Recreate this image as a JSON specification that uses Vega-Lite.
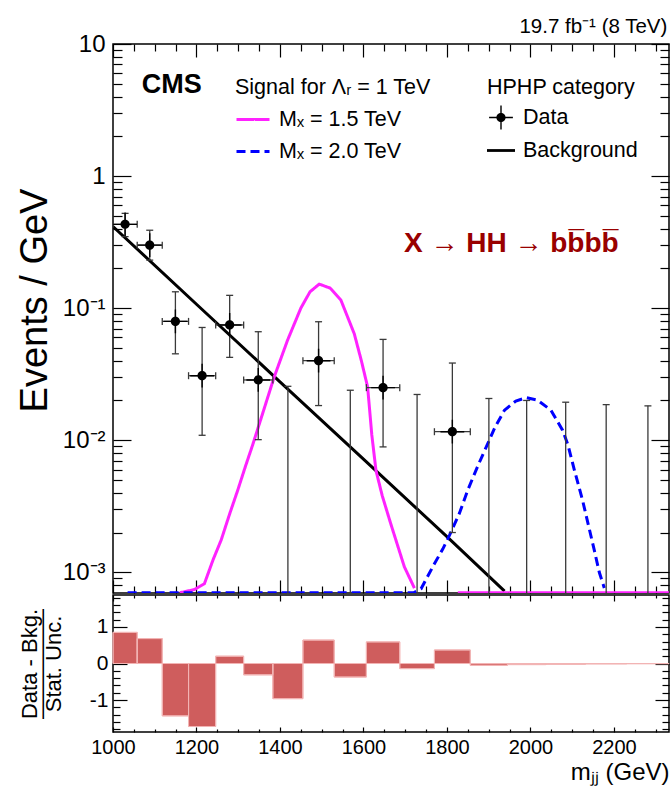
{
  "$schema": "https://vega.github.io/schema/vega-lite/v6.json",
  "background": "white",
  "padding": {"left": 15, "top": 16, "right": 3, "bottom": 4},
  "title": {"text": "19.7 fb⁻¹ (8 TeV)", "anchor": "end", "fontSize": 20.5, "fontWeight": "normal", "font": "Liberation Sans", "color": "black", "baseline": "alphabetic", "offset": -22, "dx": -3},
  "spacing": -40,
  "datasets": {
    "pts": [
      {"m": 1029, "mlo": 1000, "mhi": 1058, "val": 0.431, "elo": 0.348, "ehi": 0.522},
      {"m": 1088, "mlo": 1058, "mhi": 1118, "val": 0.300, "elo": 0.231, "ehi": 0.389},
      {"m": 1149.5, "mlo": 1118, "mhi": 1181, "val": 0.0794, "elo": 0.0451, "ehi": 0.133},
      {"m": 1213.5, "mlo": 1181, "mhi": 1246, "val": 0.0308, "elo": 0.0109, "ehi": 0.0714},
      {"m": 1279.5, "mlo": 1246, "mhi": 1313, "val": 0.0746, "elo": 0.0424, "ehi": 0.125},
      {"m": 1348, "mlo": 1313, "mhi": 1383, "val": 0.0286, "elo": 0.0101, "ehi": 0.0663},
      {"m": 1419, "mlo": 1383, "mhi": 1455, "val": null, "elo": 0.00001, "ehi": 0.0256},
      {"m": 1492.5, "mlo": 1455, "mhi": 1530, "val": 0.0400, "elo": 0.0183, "ehi": 0.0789},
      {"m": 1568.5, "mlo": 1530, "mhi": 1607, "val": null, "elo": 0.00001, "ehi": 0.0239},
      {"m": 1647, "mlo": 1607, "mhi": 1687, "val": 0.0250, "elo": 0.0089, "ehi": 0.058},
      {"m": 1728.5, "mlo": 1687, "mhi": 1770, "val": null, "elo": 0.00001, "ehi": 0.0222},
      {"m": 1813, "mlo": 1770, "mhi": 1856, "val": 0.0116, "elo": 0.0020, "ehi": 0.0384},
      {"m": 1900.5, "mlo": 1856, "mhi": 1945, "val": null, "elo": 0.00001, "ehi": 0.0207},
      {"m": 1991, "mlo": 1945, "mhi": 2037, "val": null, "elo": 0.00001, "ehi": 0.0200},
      {"m": 2084.5, "mlo": 2037, "mhi": 2132, "val": null, "elo": 0.00001, "ehi": 0.0194},
      {"m": 2181.5, "mlo": 2132, "mhi": 2231, "val": null, "elo": 0.00001, "ehi": 0.0186},
      {"m": 2281.5, "mlo": 2231, "mhi": 2332, "val": null, "elo": 0.00001, "ehi": 0.0182}
    ],
    "bkg": [
      {"m": 1000, "val": 0.415},
      {"m": 1200, "val": 0.107},
      {"m": 1400, "val": 0.0277},
      {"m": 1600, "val": 0.0072},
      {"m": 1800, "val": 0.00186},
      {"m": 1938, "val": 0.00072}
    ],
    "sig": [
      {"signal": "Mₓ = 1.5 TeV", "seg": 1, "m": 1160, "val": 0.0007},
      {"signal": "Mₓ = 1.5 TeV", "seg": 1, "m": 1195, "val": 0.00074},
      {"signal": "Mₓ = 1.5 TeV", "seg": 1, "m": 1219, "val": 0.00082},
      {"signal": "Mₓ = 1.5 TeV", "seg": 1, "m": 1240, "val": 0.00125},
      {"signal": "Mₓ = 1.5 TeV", "seg": 1, "m": 1259, "val": 0.00175},
      {"signal": "Mₓ = 1.5 TeV", "seg": 1, "m": 1280, "val": 0.0028},
      {"signal": "Mₓ = 1.5 TeV", "seg": 1, "m": 1299, "val": 0.0042},
      {"signal": "Mₓ = 1.5 TeV", "seg": 1, "m": 1317, "val": 0.0063},
      {"signal": "Mₓ = 1.5 TeV", "seg": 1, "m": 1335, "val": 0.0093},
      {"signal": "Mₓ = 1.5 TeV", "seg": 1, "m": 1360, "val": 0.0165},
      {"signal": "Mₓ = 1.5 TeV", "seg": 1, "m": 1386, "val": 0.030},
      {"signal": "Mₓ = 1.5 TeV", "seg": 1, "m": 1418, "val": 0.057},
      {"signal": "Mₓ = 1.5 TeV", "seg": 1, "m": 1450, "val": 0.100},
      {"signal": "Mₓ = 1.5 TeV", "seg": 1, "m": 1472, "val": 0.133},
      {"signal": "Mₓ = 1.5 TeV", "seg": 1, "m": 1494, "val": 0.152},
      {"signal": "Mₓ = 1.5 TeV", "seg": 1, "m": 1520, "val": 0.142},
      {"signal": "Mₓ = 1.5 TeV", "seg": 1, "m": 1546, "val": 0.115},
      {"signal": "Mₓ = 1.5 TeV", "seg": 1, "m": 1578, "val": 0.064},
      {"signal": "Mₓ = 1.5 TeV", "seg": 1, "m": 1595, "val": 0.040},
      {"signal": "Mₓ = 1.5 TeV", "seg": 1, "m": 1610, "val": 0.0253},
      {"signal": "Mₓ = 1.5 TeV", "seg": 1, "m": 1620, "val": 0.011},
      {"signal": "Mₓ = 1.5 TeV", "seg": 1, "m": 1630, "val": 0.0059},
      {"signal": "Mₓ = 1.5 TeV", "seg": 1, "m": 1645, "val": 0.0038},
      {"signal": "Mₓ = 1.5 TeV", "seg": 1, "m": 1666, "val": 0.0023},
      {"signal": "Mₓ = 1.5 TeV", "seg": 1, "m": 1698, "val": 0.0011},
      {"signal": "Mₓ = 1.5 TeV", "seg": 1, "m": 1722, "val": 0.00076},
      {"signal": "Mₓ = 1.5 TeV", "seg": 2, "m": 1826, "val": 0.0007},
      {"signal": "Mₓ = 1.5 TeV", "seg": 2, "m": 2332, "val": 0.0007},
      {"signal": "Mₓ = 2.0 TeV", "seg": 1, "m": 1035, "val": 0.0007},
      {"signal": "Mₓ = 2.0 TeV", "seg": 1, "m": 1720, "val": 0.0007},
      {"signal": "Mₓ = 2.0 TeV", "seg": 1, "m": 1738, "val": 0.00075},
      {"signal": "Mₓ = 2.0 TeV", "seg": 1, "m": 1770, "val": 0.00116},
      {"signal": "Mₓ = 2.0 TeV", "seg": 1, "m": 1790, "val": 0.0015},
      {"signal": "Mₓ = 2.0 TeV", "seg": 1, "m": 1806, "val": 0.0019},
      {"signal": "Mₓ = 2.0 TeV", "seg": 1, "m": 1830, "val": 0.0028},
      {"signal": "Mₓ = 2.0 TeV", "seg": 1, "m": 1850, "val": 0.0042},
      {"signal": "Mₓ = 2.0 TeV", "seg": 1, "m": 1875, "val": 0.0065},
      {"signal": "Mₓ = 2.0 TeV", "seg": 1, "m": 1897, "val": 0.0093},
      {"signal": "Mₓ = 2.0 TeV", "seg": 1, "m": 1915, "val": 0.0125},
      {"signal": "Mₓ = 2.0 TeV", "seg": 1, "m": 1938, "val": 0.0169},
      {"signal": "Mₓ = 2.0 TeV", "seg": 1, "m": 1965, "val": 0.0198},
      {"signal": "Mₓ = 2.0 TeV", "seg": 1, "m": 1990, "val": 0.021},
      {"signal": "Mₓ = 2.0 TeV", "seg": 1, "m": 2017, "val": 0.0201},
      {"signal": "Mₓ = 2.0 TeV", "seg": 1, "m": 2049, "val": 0.0169},
      {"signal": "Mₓ = 2.0 TeV", "seg": 1, "m": 2077, "val": 0.0119},
      {"signal": "Mₓ = 2.0 TeV", "seg": 1, "m": 2090, "val": 0.0092},
      {"signal": "Mₓ = 2.0 TeV", "seg": 1, "m": 2105, "val": 0.0060},
      {"signal": "Mₓ = 2.0 TeV", "seg": 1, "m": 2125, "val": 0.0035},
      {"signal": "Mₓ = 2.0 TeV", "seg": 1, "m": 2140, "val": 0.0022},
      {"signal": "Mₓ = 2.0 TeV", "seg": 1, "m": 2153, "val": 0.00147},
      {"signal": "Mₓ = 2.0 TeV", "seg": 1, "m": 2165, "val": 0.0010},
      {"signal": "Mₓ = 2.0 TeV", "seg": 1, "m": 2177, "val": 0.00076}
    ],
    "ratio": [
      {"mlo": 1000, "mhi": 1058, "r": 0.85},
      {"mlo": 1058, "mhi": 1118, "r": 0.68},
      {"mlo": 1118, "mhi": 1181, "r": -1.43},
      {"mlo": 1181, "mhi": 1246, "r": -1.72},
      {"mlo": 1246, "mhi": 1313, "r": 0.20},
      {"mlo": 1313, "mhi": 1383, "r": -0.31},
      {"mlo": 1383, "mhi": 1455, "r": -0.96},
      {"mlo": 1455, "mhi": 1530, "r": 0.64},
      {"mlo": 1530, "mhi": 1607, "r": -0.37},
      {"mlo": 1607, "mhi": 1687, "r": 0.59},
      {"mlo": 1687, "mhi": 1770, "r": -0.14},
      {"mlo": 1770, "mhi": 1856, "r": 0.37},
      {"mlo": 1856, "mhi": 1945, "r": -0.05},
      {"mlo": 1945, "mhi": 2037, "r": -0.03},
      {"mlo": 2037, "mhi": 2132, "r": -0.02},
      {"mlo": 2132, "mhi": 2231, "r": -0.01},
      {"mlo": 2231, "mhi": 2332, "r": -0.005}
    ]
  },
  "config": {
    "font": "Liberation Sans",
    "view": {"stroke": "black", "strokeWidth": 1.5},
    "axis": {"domain": false, "grid": false, "tickColor": "black", "tickWidth": 1.2, "labelColor": "black", "titleColor": "black", "labelFont": "Liberation Sans", "titleFont": "Liberation Sans", "titleFontWeight": "normal", "labelFlush": false, "labelOverlap": false, "labelBound": false, "zindex": 1},
    "legend": {"labelFont": "Liberation Sans", "titleFont": "Liberation Sans", "labelColor": "black", "titleColor": "black", "titleFontWeight": "normal", "padding": 0, "labelFontSize": 21.5, "titleFontSize": 21.5, "labelOffset": 8, "labelLimit": 300, "titleLimit": 400}
  },
  "vconcat": [
    {
      "width": 556,
      "height": 549,
      "resolve": {"axis": {"x": "independent", "y": "independent"}},
      "layer": [
        {
          "data": {"name": "bkg"},
          "mark": {"type": "line", "color": "black", "strokeWidth": 3, "clip": true},
          "encoding": {
            "x": {"field": "m", "type": "quantitative", "scale": {"domain": [1000, 2332], "nice": false, "zero": false},
              "axis": {"orient": "bottom", "values": [1000,1050,1100,1150,1200,1250,1300,1350,1400,1450,1500,1550,1600,1650,1700,1750,1800,1850,1900,1950,2000,2050,2100,2150,2200,2250,2300], "labels": false, "title": null,
                "tickSize": {"condition": {"test": "datum.value % 200 === 0", "value": -13}, "value": -7}}},
            "y": {"field": "val", "type": "quantitative", "scale": {"type": "log", "domain": [0.000697, 10], "nice": false},
              "axis": {"orient": "left", "values": [0.0008,0.0009,0.001,0.002,0.003,0.004,0.005,0.006,0.007,0.008,0.009,0.01,0.02,0.03,0.04,0.05,0.06,0.07,0.08,0.09,0.1,0.2,0.3,0.4,0.5,0.6,0.7,0.8,0.9,1,2,3,4,5,6,7,8,9,10],
                "labelExpr": "datum.value == 10 ? '10' : datum.value == 1 ? '1' : datum.value == 0.1 ? '10⁻¹' : datum.value == 0.01 ? '10⁻²' : datum.value == 0.001 ? '10⁻³' : ''",
                "labelFontSize": {"condition": {"test": "indexof([10,1,0.1,0.01,0.001], datum.value) >= 0", "value": 24}, "value": 0},
                "labelPadding": 26,
                "tickSize": {"condition": {"test": "indexof([10,1,0.1,0.01,0.001], datum.value) >= 0", "value": -18}, "value": -9},
                "title": "Events / GeV", "titleFontSize": 38, "titleAngle": -90, "titleX": -67, "titleY": 256, "titleBaseline": "alphabetic", "titleAlign": "center"}}
          }
        },
        {
          "data": {"name": "sig"},
          "mark": {"type": "line", "strokeWidth": 3, "clip": true},
          "encoding": {
            "x": {"field": "m", "type": "quantitative", "scale": {"domain": [1000, 2332], "nice": false, "zero": false},
              "axis": {"orient": "top", "values": [1000,1050,1100,1150,1200,1250,1300,1350,1400,1450,1500,1550,1600,1650,1700,1750,1800,1850,1900,1950,2000,2050,2100,2150,2200,2250,2300], "labels": false, "title": null,
                "tickSize": {"condition": {"test": "datum.value % 200 === 0", "value": -13}, "value": -7}}},
            "y": {"field": "val", "type": "quantitative", "scale": {"type": "log", "domain": [0.000697, 10], "nice": false},
              "axis": {"orient": "right", "values": [0.0008,0.0009,0.001,0.002,0.003,0.004,0.005,0.006,0.007,0.008,0.009,0.01,0.02,0.03,0.04,0.05,0.06,0.07,0.08,0.09,0.1,0.2,0.3,0.4,0.5,0.6,0.7,0.8,0.9,1,2,3,4,5,6,7,8,9,10], "labels": false, "title": null,
                "tickSize": {"condition": {"test": "indexof([10,1,0.1,0.01,0.001], datum.value) >= 0", "value": -18}, "value": -9}}},
            "detail": {"field": "seg", "type": "nominal"},
            "stroke": {"field": "signal", "type": "nominal", "scale": {"domain": ["Mₓ = 1.5 TeV", "Mₓ = 2.0 TeV"], "range": ["#ff22ff", "#0000ff"]},
              "legend": {"orient": "none", "legendX": 122, "legendY": 33, "title": "Signal for Λᵣ = 1 TeV", "titlePadding": 3, "symbolType": "stroke", "symbolSize": 1089, "symbolStrokeWidth": 3, "rowPadding": 3}},
            "strokeDash": {"field": "signal", "type": "nominal", "scale": {"domain": ["Mₓ = 1.5 TeV", "Mₓ = 2.0 TeV"], "range": [[1, 0], [9, 5]]},
              "legend": {"orient": "none", "legendX": 122, "legendY": 33, "title": "Signal for Λᵣ = 1 TeV", "titlePadding": 3, "symbolType": "stroke", "symbolSize": 1089, "symbolStrokeWidth": 3, "rowPadding": 3}}
          }
        },
        {
          "data": {"name": "pts"},
          "mark": {"type": "rule", "color": "#3a3a3a", "strokeWidth": 1.3, "clip": true},
          "encoding": {
            "x": {"field": "m", "type": "quantitative", "scale": {"domain": [1000, 2332], "nice": false, "zero": false}, "axis": null},
            "y": {"field": "elo", "type": "quantitative", "scale": {"type": "log", "domain": [0.000697, 10], "nice": false}, "axis": null},
            "y2": {"field": "ehi"}
          }
        },
        {
          "data": {"name": "pts"},
          "transform": [{"filter": "datum.val != null"}],
          "mark": {"type": "rule", "color": "#3a3a3a", "strokeWidth": 1.3, "clip": true},
          "encoding": {
            "x": {"field": "mlo", "type": "quantitative", "scale": {"domain": [1000, 2332], "nice": false, "zero": false}, "axis": null},
            "x2": {"field": "mhi"},
            "y": {"field": "val", "type": "quantitative", "scale": {"type": "log", "domain": [0.000697, 10], "nice": false}, "axis": null}
          }
        },
        {
          "data": {"name": "pts"},
          "transform": [{"fold": ["elo", "ehi"], "as": ["k", "v"]}],
          "mark": {"type": "tick", "orient": "horizontal", "size": 7, "thickness": 1.3, "color": "#3a3a3a", "opacity": 1, "clip": true},
          "encoding": {
            "x": {"field": "m", "type": "quantitative", "scale": {"domain": [1000, 2332], "nice": false, "zero": false}, "axis": null},
            "y": {"field": "v", "type": "quantitative", "scale": {"type": "log", "domain": [0.000697, 10], "nice": false}, "axis": null}
          }
        },
        {
          "data": {"name": "pts"},
          "transform": [{"filter": "datum.val != null"}, {"fold": ["mlo", "mhi"], "as": ["k", "v"]}],
          "mark": {"type": "tick", "orient": "vertical", "size": 7, "thickness": 1.3, "color": "#3a3a3a", "opacity": 1, "clip": true},
          "encoding": {
            "x": {"field": "v", "type": "quantitative", "scale": {"domain": [1000, 2332], "nice": false, "zero": false}, "axis": null},
            "y": {"field": "val", "type": "quantitative", "scale": {"type": "log", "domain": [0.000697, 10], "nice": false}, "axis": null}
          }
        },
        {
          "data": {"name": "pts"},
          "transform": [{"filter": "datum.val != null"}],
          "mark": {"type": "point", "filled": true, "color": "black", "size": 784, "opacity": 1, "clip": true},
          "encoding": {
            "x": {"field": "m", "type": "quantitative", "scale": {"domain": [1000, 2332], "nice": false, "zero": false}, "axis": null},
            "y": {"field": "val", "type": "quantitative", "scale": {"type": "log", "domain": [0.000697, 10], "nice": false}, "axis": null},
            "shape": {"datum": "Data", "type": "nominal",
              "scale": {"domain": ["Data", "Background"], "range": ["M-0.85,-0.05H0.85V0.05H-0.85ZM-0.05,-0.85H0.05V0.85H-0.05ZM0.33,0A0.33,0.33,0,1,1,-0.33,0A0.33,0.33,0,1,1,0.33,0Z", "M-1,-0.1H1V0.1H-1Z"]},
              "legend": {"orient": "none", "legendX": 374, "legendY": 33, "title": "HPHP category", "titlePadding": 5, "symbolSize": 784, "rowPadding": 7, "symbolFillColor": "black", "symbolStrokeWidth": 0}}
          }
        },
        {
          "data": {"values": [{}]},
          "mark": {"type": "text", "text": "CMS", "font": "Liberation Sans", "fontSize": 27, "fontWeight": "bold", "align": "left", "baseline": "alphabetic", "color": "black"},
          "encoding": {
            "x": {"datum": 1069, "type": "quantitative", "scale": {"domain": [1000, 2332], "nice": false, "zero": false}, "axis": null},
            "y": {"datum": 4.25, "type": "quantitative", "scale": {"type": "log", "domain": [0.000697, 10], "nice": false}, "axis": null}
          }
        },
        {
          "data": {"values": [{}]},
          "mark": {"type": "text", "text": "X → HH → bb̅bb̅", "font": "Liberation Sans", "fontSize": 28, "fontWeight": "bold", "align": "left", "baseline": "alphabetic", "color": "#990000"},
          "encoding": {
            "x": {"datum": 1697, "type": "quantitative", "scale": {"domain": [1000, 2332], "nice": false, "zero": false}, "axis": null},
            "y": {"datum": 0.267, "type": "quantitative", "scale": {"type": "log", "domain": [0.000697, 10], "nice": false}, "axis": null}
          }
        }
      ]
    },
    {
      "width": 556,
      "height": 137,
      "resolve": {"axis": {"x": "independent", "y": "independent"}},
      "data": {"name": "ratio"},
      "layer": [
        {
          "mark": {"type": "rect", "fill": "#cf5d5d", "stroke": "#f2b4b4", "strokeWidth": 1},
          "encoding": {
            "x": {"field": "mlo", "type": "quantitative", "scale": {"domain": [1000, 2332], "nice": false, "zero": false},
              "axis": {"orient": "bottom", "values": [1000,1050,1100,1150,1200,1250,1300,1350,1400,1450,1500,1550,1600,1650,1700,1750,1800,1850,1900,1950,2000,2050,2100,2150,2200,2250,2300],
                "format": "d", "labelExpr": "datum.value % 200 === 0 ? datum.label : ''", "labelFontSize": 20, "labelPadding": 10,
                "tickSize": {"condition": {"test": "datum.value % 200 === 0", "value": -5}, "value": -3},
                "title": "mⱼⱼ (GeV)", "titleFontSize": 24, "titleX": 556, "titleY": 47, "titleAlign": "right", "titleBaseline": "alphabetic"}},
            "x2": {"field": "mhi"},
            "y": {"field": "r", "type": "quantitative", "scale": {"domain": [-1.87, 1.87], "nice": false, "zero": false},
              "axis": {"orient": "left", "values": [-1.8,-1.6,-1.4,-1.2,-1,-0.8,-0.6,-0.4,-0.2,0,0.2,0.4,0.6,0.8,1,1.2,1.4,1.6,1.8],
                "labelExpr": "datum.value === 1 ? '1' : datum.value === 0 ? '0' : datum.value === -1 ? '-1' : ''", "labelFontSize": 21, "labelPadding": 19,
                "tickSize": {"condition": {"test": "datum.value === 1 || datum.value === 0 || datum.value === -1", "value": -14}, "value": -7},
                "title": ["Data - Bkg.", "—————", "Stat. Unc."], "titleFontSize": 22, "titleLineHeight": 12, "titleAngle": -90, "titleX": -77, "titleY": 68.5, "titleBaseline": "alphabetic", "titleAlign": "center"}},
            "y2": {"datum": 0}
          }
        },
        {
          "mark": {"type": "rect", "fill": null, "fillOpacity": 0, "stroke": "#f2b4b4", "strokeWidth": 1},
          "encoding": {
            "x": {"field": "mlo", "type": "quantitative", "scale": {"domain": [1000, 2332], "nice": false, "zero": false},
              "axis": {"orient": "top", "values": [1000,1050,1100,1150,1200,1250,1300,1350,1400,1450,1500,1550,1600,1650,1700,1750,1800,1850,1900,1950,2000,2050,2100,2150,2200,2250,2300], "labels": false, "title": null,
                "tickSize": {"condition": {"test": "datum.value % 200 === 0", "value": -6}, "value": -3}}},
            "x2": {"field": "mhi"},
            "y": {"field": "r", "type": "quantitative", "scale": {"domain": [-1.87, 1.87], "nice": false, "zero": false},
              "axis": {"orient": "right", "values": [-1.8,-1.6,-1.4,-1.2,-1,-0.8,-0.6,-0.4,-0.2,0,0.2,0.4,0.6,0.8,1,1.2,1.4,1.6,1.8], "labels": false, "title": null,
                "tickSize": {"condition": {"test": "datum.value === 1 || datum.value === 0 || datum.value === -1", "value": -14}, "value": -7}}},
            "y2": {"datum": 0}
          }
        }
      ]
    }
  ]
}
